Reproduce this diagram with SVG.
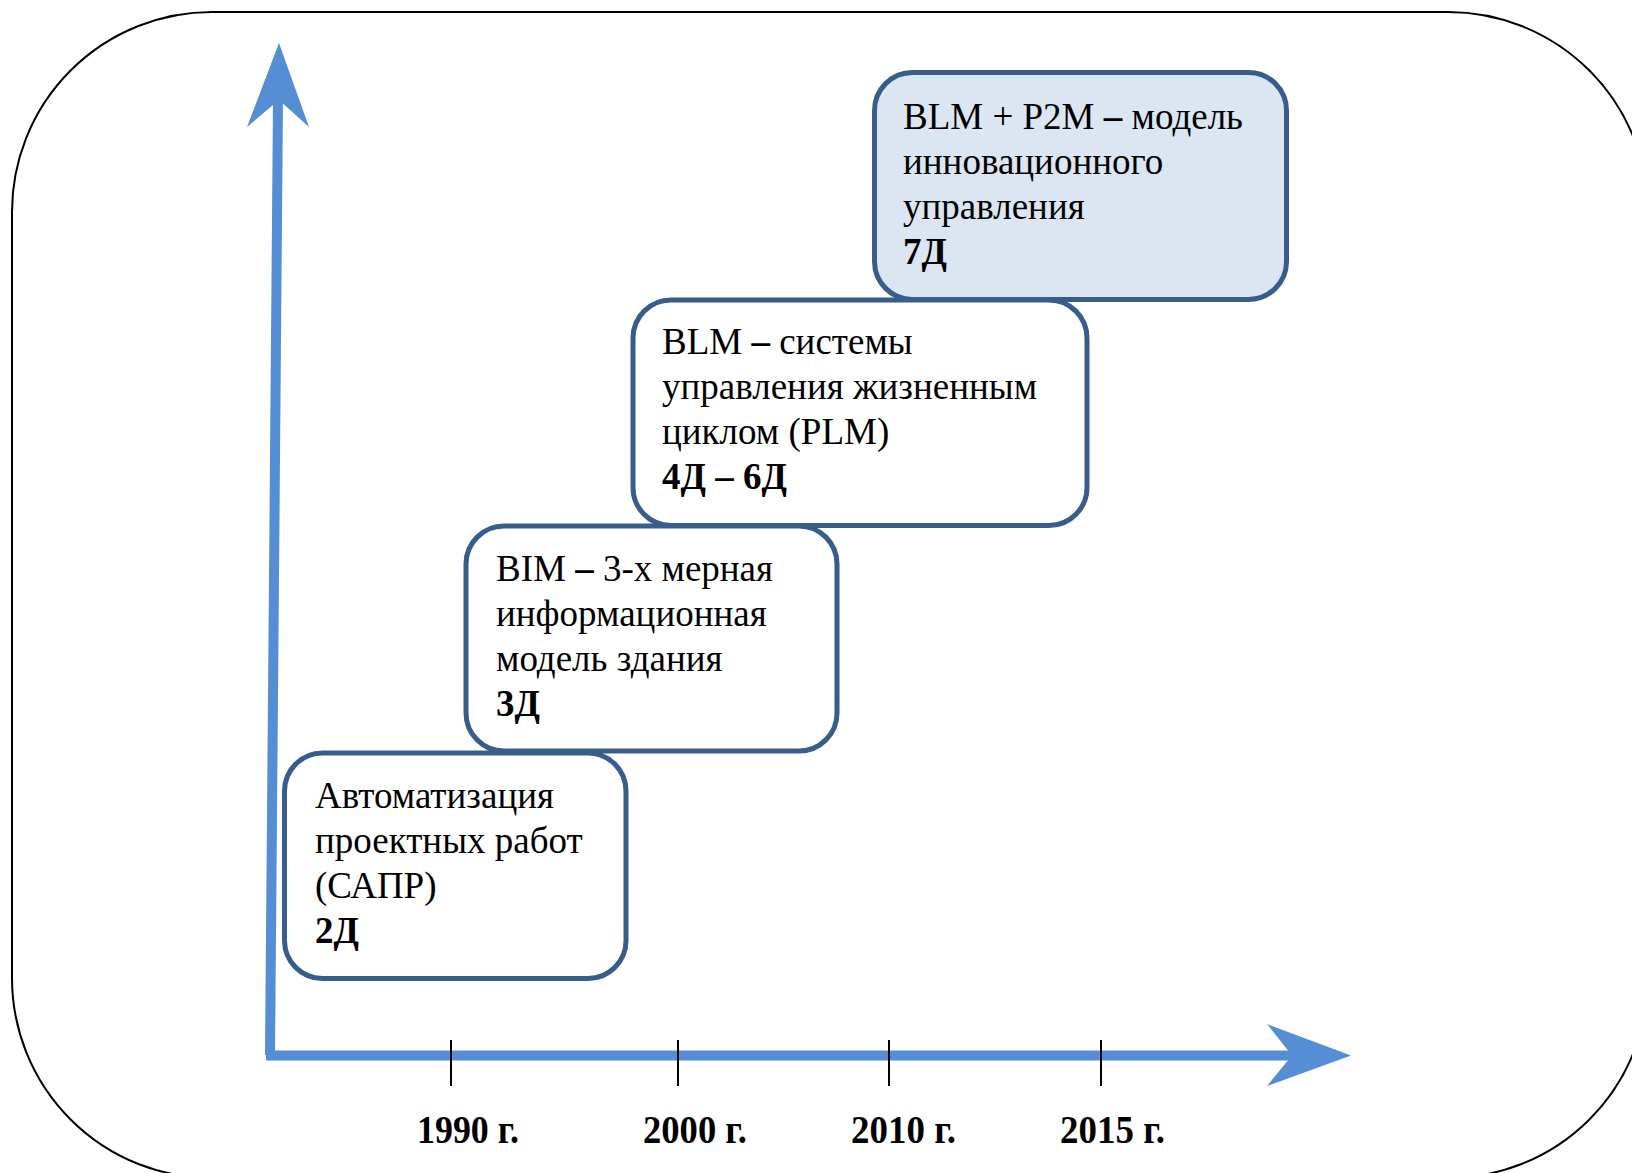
<svg xmlns="http://www.w3.org/2000/svg" width="1632" height="1173" viewBox="0 0 1632 1173">
<style>
.box{fill:#FFFFFF;stroke:#385D8A;stroke-width:5}
.box.hl{fill:#DCE6F2}
.t{font-family:"Liberation Serif","Times New Roman",serif;font-size:37px;fill:#000}
.b{font-weight:bold}
.yr{font-family:"Liberation Serif","Times New Roman",serif;font-size:39px;font-weight:bold;fill:#000}
.axis{stroke:#558ED5;stroke-width:10;fill:none}
.head{fill:#558ED5}
.tick{stroke:#000;stroke-width:2}
</style>
<rect x="12" y="12" width="1636" height="1166" rx="200" ry="200" fill="#FFFFFF" stroke="#000" stroke-width="2"/>
<g id="connectors">
<line class="axis" x1="270" y1="1055" x2="278" y2="100"/>
<polygon class="head" points="279,43 309,127 279,100 247,127"/>
<line class="axis" x1="266" y1="1055.5" x2="1294" y2="1055.5"/>
<polygon class="head" points="1351,1055.5 1267,1086 1292,1055.5 1267,1024"/>
<line class="tick" x1="451" y1="1040" x2="451" y2="1086"/>
<line class="tick" x1="678" y1="1040" x2="678" y2="1086"/>
<line class="tick" x1="889" y1="1040" x2="889" y2="1086"/>
<line class="tick" x1="1101" y1="1040" x2="1101" y2="1086"/>
</g>
<g id="years">
<text class="yr" x="417" y="1143" textLength="102" lengthAdjust="spacingAndGlyphs">1990 г.</text>
<text class="yr" x="643" y="1143" textLength="104" lengthAdjust="spacingAndGlyphs">2000 г.</text>
<text class="yr" x="851" y="1143" textLength="105" lengthAdjust="spacingAndGlyphs">2010 г.</text>
<text class="yr" x="1060" y="1143" textLength="105" lengthAdjust="spacingAndGlyphs">2015 г.</text>
</g>
<g id="node-cad">
<rect class="box" x="284.5" y="753" width="341.5" height="225.5" rx="38" ry="38"/>
<text class="t" x="315" y="808">Автоматизация</text>
<text class="t" x="315" y="853">проектных работ</text>
<text class="t" x="315" y="898">(САПР)</text>
<text class="t b" x="315" y="943">2Д</text>
</g>
<g id="node-bim">
<rect class="box" x="466" y="526" width="371" height="225" rx="38" ry="38"/>
<text class="t" x="496" y="581">BIM <tspan class="b">–</tspan> 3-х мерная</text>
<text class="t" x="496" y="626">информационная</text>
<text class="t" x="496" y="671">модель здания</text>
<text class="t b" x="496" y="716">3Д</text>
</g>
<g id="node-blm">
<rect class="box" x="633" y="300" width="454" height="225.5" rx="38" ry="38"/>
<text class="t" x="662" y="354">BLM <tspan class="b">–</tspan> системы</text>
<text class="t" x="662" y="399">управления жизненным</text>
<text class="t" x="662" y="444">циклом (PLM)</text>
<text class="t b" x="662" y="489">4Д – 6Д</text>
</g>
<g id="node-p2m">
<rect class="box hl" x="874.5" y="72.5" width="412" height="227" rx="38" ry="38"/>
<text class="t" x="903" y="129">BLM + P2M <tspan class="b">–</tspan> модель</text>
<text class="t" x="903" y="174">инновационного</text>
<text class="t" x="903" y="219">управления</text>
<text class="t b" x="903" y="264">7Д</text>
</g>
</svg>
